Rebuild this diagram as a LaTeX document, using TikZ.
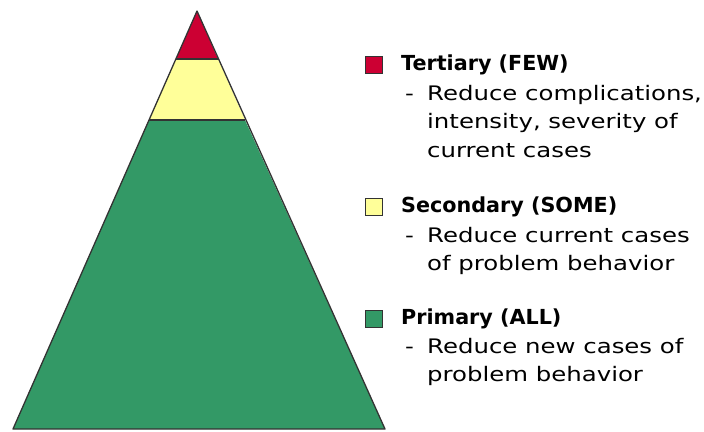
\documentclass[tikz,border=0pt]{standalone}
\usepackage{fontspec}
\setmainfont{DejaVu Sans}
\newfontfamily\descfont[FakeStretch=1.22]{DejaVu Sans}
\definecolor{tred}{HTML}{CC0033}
\definecolor{tyellow}{HTML}{FFFF99}
\definecolor{tgreen}{HTML}{339966}
\definecolor{edge}{HTML}{333333}
\begin{document}
\begin{tikzpicture}[x=1pt,y=-1pt,
  tier/.style={draw=edge,line width=1.3pt,line join=round},
  swatch/.style={draw=edge,line width=1pt,minimum size=17pt,inner sep=0pt},
  head/.style={anchor=base west,inner sep=0pt,font=\fontsize{20.7}{24}\selectfont\bfseries},
  desc/.style={anchor=base west,inner sep=0pt,font=\descfont\fontsize{20}{24}\selectfont}]
\useasboundingbox (0,0) rectangle (704,431);
% pyramid
\coordinate (apex) at (197,11);
\coordinate (bl) at (13,429);
\coordinate (br) at (385,429);
\coordinate (rl) at (176,59);
\coordinate (rr) at (218,59);
\coordinate (yl) at (149,120);
\coordinate (yr) at (245,120);
\fill[tgreen] (yl) -- (yr) -- (br) -- (bl) -- cycle;
\fill[tyellow] (rl) -- (rr) -- (yr) -- (yl) -- cycle;
\fill[tred] (apex) -- (rr) -- (rl) -- cycle;
\draw[tier] (rl) -- (rr);
\draw[tier] (yl) -- (yr);
\draw[tier] (apex) -- (bl) -- (br) -- cycle;
% legend
\node[swatch,fill=tred] (s1) at (374,65) {};
\node[head] (h1) at (401,70) {Tertiary (FEW)};
\node[desc] (d1) at (405,100) {-};
\node[desc] (t1a) at (427,100) {Reduce complications,};
\node[desc] (t1b) at (427,128) {intensity, severity of};
\node[desc] (t1c) at (427,157) {current cases};
\node[swatch,fill=tyellow] (s2) at (374,207) {};
\node[head] (h2) at (401,212) {Secondary (SOME)};
\node[desc] (d2) at (405,242) {-};
\node[desc] (t2a) at (427,242) {Reduce current cases};
\node[desc] (t2b) at (427,270) {of problem behavior};
\node[swatch,fill=tgreen] (s3) at (374,319) {};
\node[head] (h3) at (401,324) {Primary (ALL)};
\node[desc] (d3) at (405,353) {-};
\node[desc] (t3a) at (427,353) {Reduce new cases of};
\node[desc] (t3b) at (427,381) {problem behavior};
\end{tikzpicture}
\end{document}
